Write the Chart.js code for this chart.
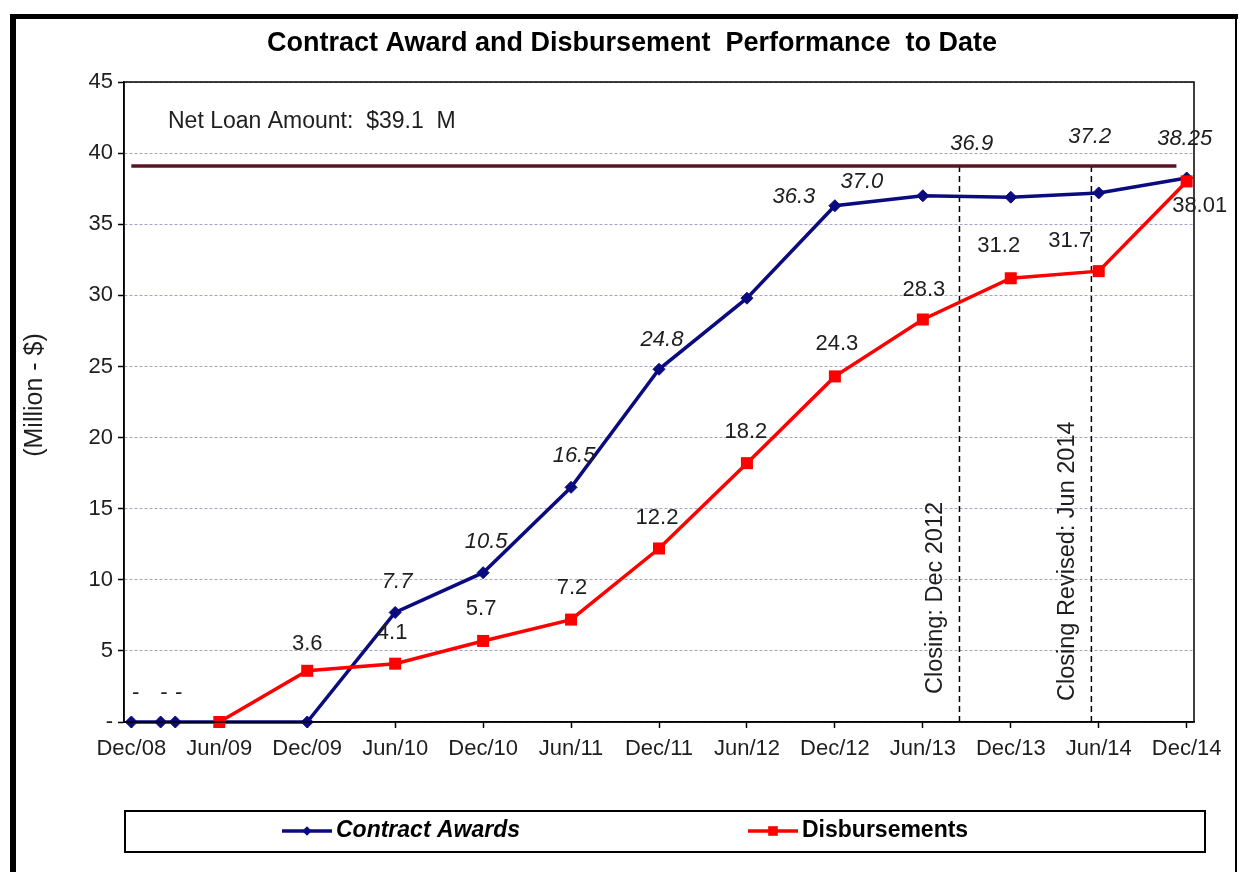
<!DOCTYPE html>
<html>
<head>
<meta charset="utf-8">
<title>Contract Award and Disbursement Performance to Date</title>
<script src="https://cdn.jsdelivr.net/npm/chart.js@4.4.1/dist/chart.umd.min.js"></script>
<style>
  html, body { margin: 0; padding: 0; background: #fff; overflow: hidden; }
  #wrap { position: relative; width: 1244px; height: 872px; }
</style>
</head>
<body>
<div id="wrap"><canvas id="perf" width="1244" height="872"></canvas></div>
<script>
// x values are months counted from Dec 2008
const awardMonths = [0, 2, 3, 12, 18, 24, 30, 36, 42, 48, 54, 60, 66, 72];
const awardValues = [0, 0, 0, 0, 7.7, 10.5, 16.5, 24.8, 29.8, 36.3, 37.0, 36.9, 37.2, 38.25];
const disbMonths = [6, 12, 18, 24, 30, 36, 42, 48, 54, 60, 66, 72];
const disbValues = [0, 3.6, 4.1, 5.7, 7.2, 12.2, 18.2, 24.3, 28.3, 31.2, 31.7, 38.01];
const tickMonths = [0, 6, 12, 18, 24, 30, 36, 42, 48, 54, 60, 66, 72];
const tickLabels = ['Dec/08', 'Jun/09', 'Dec/09', 'Jun/10', 'Dec/10', 'Jun/11', 'Dec/11',
  'Jun/12', 'Dec/12', 'Jun/13', 'Dec/13', 'Jun/14', 'Dec/14'];
const netLoan = 39.1;
const netLoanSpan = [0, 71.3];
const closingMonths = [56.5, 65.5];
const closingLabels = ['Closing: Dec 2012', 'Closing Revised: Jun 2014'];

// where each value label sits relative to its point (null = no label)
const awardLabelPos = [[4, -29], [3, -29], [3, -29], null, [2, -31], [3, -31], [3, -31], [3, -29],
  null, [-41, -9], [-61, -14], [-39, -53], [-9, -56], [-2, -39]];
const disbLabelPos = [null, [0, -27], [-3, -31], [-2, -32], [1, -32], [-2, -31], [-1, -31],
  [2, -32], [1, -30], [-12, -32], [-29, -30], [13, 25]];
const legendX = [282, 748];

const FONT = '"Liberation Sans", Arial, sans-serif';
const NAVY = '#0b0b80';
const RED = '#ff0000';
const INK = '#1e1e1e';

Chart.defaults.font.family = FONT;
Chart.defaults.color = INK;

function fmt(v) {
  if (v === 0) return '-';
  return Math.abs(v * 10 - Math.round(v * 10)) < 1e-9 ? v.toFixed(1) : String(v);
}

const pts = (xs, ys) => xs.map((x, i) => ({ x: x, y: ys[i] }));

const datasets = [
  {
    label: 'Contract Awards',
    data: pts(awardMonths, awardValues),
    borderColor: NAVY,
    backgroundColor: NAVY,
    borderWidth: 3.5,
    pointStyle: 'rectRot',
    pointRadius: 6,
    pointBorderWidth: 1,
    clip: false,
    order: 2,
    labelPos: awardLabelPos,
    labelItalic: true,
    inLegend: true
  },
  {
    label: 'Disbursements',
    data: pts(disbMonths, disbValues),
    borderColor: RED,
    backgroundColor: RED,
    borderWidth: 3.5,
    pointStyle: 'rect',
    pointRadius: 8.5,
    pointBorderWidth: 0,
    clip: false,
    order: 1,
    labelPos: disbLabelPos,
    labelItalic: false,
    inLegend: true
  },
  {
    label: 'Net Loan Amount',
    data: netLoanSpan.map(m => ({ x: m, y: netLoan })),
    borderColor: '#5a1420',
    borderWidth: 3.5,
    pointRadius: 0,
    order: 3
  }
];

closingMonths.forEach((m, i) => {
  datasets.push({
    label: closingLabels[i],
    data: [{ x: m, y: 0 }, { x: m, y: netLoan }],
    borderColor: '#000',
    borderWidth: 1.5,
    borderDash: [6, 4],
    pointRadius: 0,
    order: 4
  });
});

const backdrop = {
  id: 'backdrop',
  beforeDraw(chart) {
    const ctx = chart.ctx;
    ctx.save();
    ctx.fillStyle = '#fff';
    ctx.fillRect(0, 0, chart.width, chart.height);
    // outer frame
    ctx.fillStyle = '#000';
    ctx.fillRect(10, 14, 6, chart.height);
    ctx.fillRect(10, 14, 1228, 5);
    ctx.fillRect(1235, 14, 2, chart.height);
    // title
    ctx.font = 'bold 27px ' + FONT;
    ctx.textAlign = 'center';
    ctx.textBaseline = 'middle';
    ctx.fillText('Contract Award and Disbursement  Performance  to Date', 632, 44);
    // y axis title
    ctx.fillStyle = INK;
    ctx.font = '25px ' + FONT;
    ctx.translate(35, 395);
    ctx.rotate(-Math.PI / 2);
    ctx.fillText('(Million - $)', 0, 0);
    ctx.restore();
  }
};

const decorations = {
  id: 'decorations',
  afterDraw(chart) {
    const ctx = chart.ctx;
    const area = chart.chartArea;
    const xs = chart.scales.x;
    const ys = chart.scales.y;
    ctx.save();

    // plot box
    ctx.strokeStyle = '#000';
    ctx.lineWidth = 1.5;
    ctx.strokeRect(area.left, area.top, area.right - area.left, area.bottom - area.top);

    // net loan note
    ctx.fillStyle = INK;
    ctx.font = '23px ' + FONT;
    ctx.textAlign = 'left';
    ctx.textBaseline = 'middle';
    ctx.fillText('Net Loan Amount:  $39.1  M', area.left + 44, ys.getPixelForValue(netLoan) - 44);

    // closing notes, reading upward beside the dashed lines
    ctx.font = '23.5px ' + FONT;
    closingMonths.forEach((m, i) => {
      ctx.save();
      ctx.translate(xs.getPixelForValue(m) - 24, area.bottom - 28 + i * 7);
      ctx.rotate(-Math.PI / 2);
      ctx.textAlign = 'left';
      ctx.textBaseline = 'middle';
      ctx.fillText(closingLabels[i], 0, 0);
      ctx.restore();
    });

    // value labels
    chart.data.datasets.forEach((ds, di) => {
      if (!ds.labelPos) return;
      const meta = chart.getDatasetMeta(di);
      ctx.font = (ds.labelItalic ? 'italic ' : '') + '22px ' + FONT;
      ctx.textAlign = 'center';
      meta.data.forEach((el, i) => {
        const off = ds.labelPos[i];
        if (!off) return;
        ctx.fillText(fmt(ds.data[i].y), el.x + off[0], el.y + off[1]);
      });
    });

    // legend box
    ctx.lineWidth = 2;
    ctx.strokeRect(125, 811, 1080, 41);
    const ly = 831;
    chart.data.datasets.filter(ds => ds.inLegend).forEach((ds, i) => {
      const x0 = legendX[i];
      ctx.strokeStyle = ds.borderColor;
      ctx.lineWidth = 3.5;
      ctx.beginPath();
      ctx.moveTo(x0, ly);
      ctx.lineTo(x0 + 50, ly);
      ctx.stroke();
      ctx.fillStyle = ds.backgroundColor;
      Chart.helpers.drawPoint(ctx, {
        pointStyle: ds.pointStyle,
        radius: ds.pointRadius * 0.8,
        rotation: 0,
        borderWidth: 0
      }, x0 + 25, ly);
      ctx.fillStyle = '#000';
      ctx.font = (ds.labelItalic ? 'italic ' : '') + 'bold 23px ' + FONT;
      ctx.textAlign = 'left';
      ctx.fillText(ds.label, x0 + 54, ly);
    });
    ctx.restore();
  }
};

new Chart(document.getElementById('perf'), {
  type: 'line',
  data: { datasets: datasets },
  options: {
    responsive: false,
    animation: false,
    layout: { padding: { left: 10, top: 82, right: 50, bottom: 110 } },
    plugins: { legend: { display: false }, tooltip: { enabled: false } },
    elements: { line: { tension: 0 } },
    scales: {
      x: {
        type: 'linear',
        min: -0.5,
        max: 72.5,
        afterBuildTicks: s => { s.ticks = tickMonths.map(v => ({ value: v })); },
        afterFit: s => { s.height = 40; },
        ticks: {
          callback: v => tickLabels[tickMonths.indexOf(v)],
          autoSkip: false,
          maxRotation: 0,
          padding: 8,
          color: INK,
          font: { size: 22 }
        },
        grid: { drawOnChartArea: false, tickLength: 6, tickColor: '#000', tickWidth: 1.5 },
        border: { color: '#000', width: 1.5 }
      },
      y: {
        min: 0,
        max: 45,
        afterFit: s => { s.width = 114; },
        ticks: {
          stepSize: 5,
          callback: v => (v === 0 ? '-' : v),
          padding: 5,
          color: INK,
          font: { size: 22 }
        },
        grid: {
          color: '#aaa2c4',
          lineWidth: 1,
          tickLength: 6,
          tickColor: '#000',
          tickWidth: 1.5,
          tickBorderDash: []
        },
        border: { color: '#000', width: 1.5, dash: [3, 2] }
      }
    }
  },
  plugins: [backdrop, decorations]
});
</script>
</body>
</html>
